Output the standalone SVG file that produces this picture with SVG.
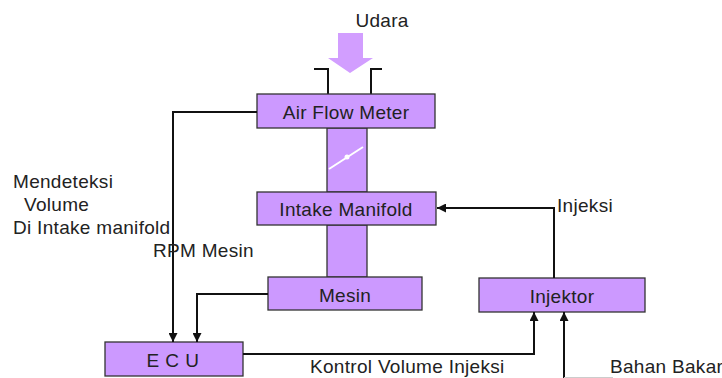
<svg xmlns="http://www.w3.org/2000/svg" width="722" height="378" viewBox="0 0 722 378">
<defs>
<style>
.box{fill:#cc99ff;stroke:#333;stroke-width:1.3}
.pipe{fill:#cc99ff;stroke:#333;stroke-width:1.3}
.lbl{font-family:"Liberation Sans",Arial,sans-serif;font-size:19px;fill:#222;letter-spacing:0.3px}
.ctr{text-anchor:middle}
.con{fill:none;stroke:#111;stroke-width:2}
.thin{fill:none;stroke:#111;stroke-width:2}
</style>
<marker id="ah2" viewBox="0 0 10 10" refX="10" refY="5" markerWidth="10" markerHeight="9" orient="auto" markerUnits="userSpaceOnUse">
<path d="M0,0 L10,5 L0,10 z" fill="#111"/>
</marker>
</defs>
<rect width="722" height="378" fill="#fff"/>

<g id="pipes">
<rect class="pipe" x="327" y="128" width="40" height="64"/>
<rect class="pipe" x="327" y="225" width="40" height="52"/>
<line x1="329" y1="169" x2="363" y2="147" stroke="#fff" stroke-width="2"/>
<circle cx="347" cy="157" r="2.5" fill="#fff"/>
</g>

<g id="udara">
<path d="M338,33 L363,33 L363,58 L373,58 L350,73 L328,58 L338,58 z" fill="#d29eff"/>
<path class="thin" d="M314,69 H328 V94 M382,69 H371 V94"/>
<text class="lbl ctr" x="382" y="27">Udara</text>
</g>

<g id="afm">
<rect class="box" x="257" y="94" width="178" height="34"/>
<text class="lbl ctr" x="346" y="119">Air Flow Meter</text>
</g>

<g id="intake">
<rect class="box" x="257" y="192" width="179" height="33"/>
<text class="lbl ctr" x="346" y="216">Intake Manifold</text>
</g>

<g id="mesin">
<rect class="box" x="268" y="277" width="154" height="33"/>
<text class="lbl ctr" x="345" y="302">Mesin</text>
</g>

<g id="ecu">
<rect class="box" x="105" y="342" width="138" height="34"/>
<text class="lbl ctr" x="173" y="367" style="letter-spacing:0.5px">E C U</text>
</g>

<g id="injektor">
<rect class="box" x="479" y="278" width="166" height="34"/>
<text class="lbl ctr" x="562" y="303">Injektor</text>
</g>

<g id="connectors">
<path class="con" d="M257,112 H173 V342" marker-end="url(#ah2)"/>
<path class="con" d="M268,294 H197 V342" marker-end="url(#ah2)"/>
<path class="con" d="M554,278 V208 H437" marker-end="url(#ah2)"/>
<path class="con" d="M243,354 H534 V312" marker-end="url(#ah2)"/>
<path class="con" d="M564,378 V312" marker-end="url(#ah2)"/>
<line x1="564" y1="377.5" x2="613" y2="377.5" stroke="#ccc" stroke-width="1"/>
</g>

<g id="labels">
<text class="lbl" x="13" y="188">Mendeteksi</text>
<text class="lbl" x="24" y="211">Volume</text>
<text class="lbl" x="13" y="234">Di Intake manifold</text>
<text class="lbl" x="153" y="257">RPM Mesin</text>
<text class="lbl" x="557" y="212">Injeksi</text>
<text class="lbl" x="310" y="373">Kontrol Volume Injeksi</text>
<text class="lbl" x="610" y="373">Bahan Bakar</text>
</g>
</svg>
